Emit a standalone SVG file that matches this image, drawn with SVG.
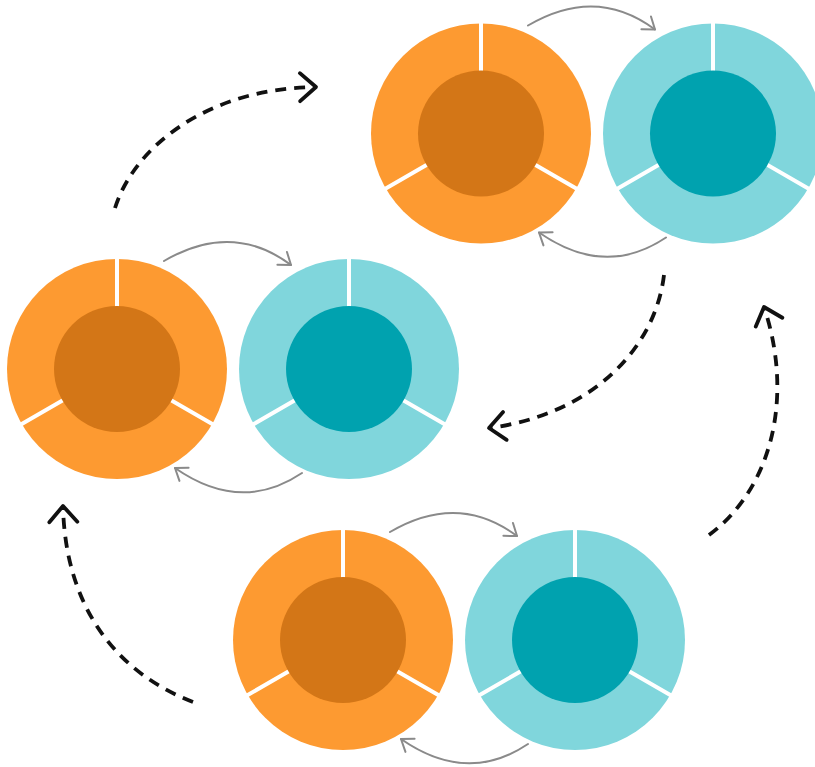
<svg xmlns="http://www.w3.org/2000/svg" width="815" height="767" viewBox="0 0 815 767">
<style>
.oo{fill:#FD9A31}
.oi{fill:#D37617}
.to{fill:#80D6DC}
.ti{fill:#00A2AF}
.sep{stroke:#fff;stroke-width:4;fill:none}
.g{fill:none;stroke:#8a8a8a;stroke-width:2;stroke-linecap:round}
.d{fill:none;stroke:#111;stroke-width:3.8;stroke-dasharray:11 8;stroke-linecap:butt}
</style>
<defs>
<marker id="ag" markerUnits="userSpaceOnUse" markerWidth="24" markerHeight="24" viewBox="-12 -12 24 24" refX="0" refY="0" orient="auto" overflow="visible">
<path d="M-11,-8 L0,0 L-11,8" fill="none" stroke="#8a8a8a" stroke-width="2" stroke-linecap="round" stroke-linejoin="round"/>
</marker>
<marker id="ab" markerUnits="userSpaceOnUse" markerWidth="40" markerHeight="40" viewBox="-20 -20 40 40" refX="0" refY="0" orient="auto" overflow="visible">
<path d="M-16,-14 L0,0 L-16,14" fill="none" stroke="#111" stroke-width="3.8" stroke-linecap="round" stroke-linejoin="round"/>
</marker>
</defs>

<g id="pair-left-orange">
<circle class="oo" cx="117" cy="369" r="110"/>
<path class="sep" d="M117,369 v-112 M117,369 l97,56 M117,369 l-97,56"/>
<circle class="oi" cx="117" cy="369" r="63"/>
</g>
<g id="pair-left-teal">
<circle class="to" cx="349" cy="369" r="110"/>
<path class="sep" d="M349,369 v-112 M349,369 l97,56 M349,369 l-97,56"/>
<circle class="ti" cx="349" cy="369" r="63"/>
</g>

<g id="pair-top-orange">
<circle class="oo" cx="481" cy="133.5" r="110"/>
<path class="sep" d="M481,133.5 v-112 M481,133.5 l97,56 M481,133.5 l-97,56"/>
<circle class="oi" cx="481" cy="133.5" r="63"/>
</g>
<g id="pair-top-teal">
<circle class="to" cx="713" cy="133.5" r="110"/>
<path class="sep" d="M713,133.5 v-112 M713,133.5 l97,56 M713,133.5 l-97,56"/>
<circle class="ti" cx="713" cy="133.5" r="63"/>
</g>

<g id="pair-bottom-orange">
<circle class="oo" cx="343" cy="640" r="110"/>
<path class="sep" d="M343,640 v-112 M343,640 l97,56 M343,640 l-97,56"/>
<circle class="oi" cx="343" cy="640" r="63"/>
</g>
<g id="pair-bottom-teal">
<circle class="to" cx="575" cy="640" r="110"/>
<path class="sep" d="M575,640 v-112 M575,640 l97,56 M575,640 l-97,56"/>
<circle class="ti" cx="575" cy="640" r="63"/>
</g>

<g id="connectors">
<path class="g" marker-end="url(#ag)" d="M164,261 Q232,221 291,265"/>
<path class="g" marker-end="url(#ag)" d="M302,473 Q241,514 175,468"/>
<path class="g" marker-end="url(#ag)" d="M528,25.5 Q596,-14.5 655,29.5"/>
<path class="g" marker-end="url(#ag)" d="M666,237.5 Q605,278.5 539,232.5"/>
<path class="g" marker-end="url(#ag)" d="M390,532 Q458,492 517,536"/>
<path class="g" marker-end="url(#ag)" d="M528,744 Q467,785 401,739"/>

<path class="d" marker-end="url(#ab)" d="M115,208 C135,145 210,88 316,87"/>
<path class="d" marker-end="url(#ab)" d="M664,275 C655,350 590,415 489,428"/>
<path class="d" marker-end="url(#ab)" d="M193,702 C110,670 65,600 63,506"/>
<path class="d" marker-end="url(#ab)" d="M709,535 C770,490 795,400 764,307"/>
</g>
</svg>
